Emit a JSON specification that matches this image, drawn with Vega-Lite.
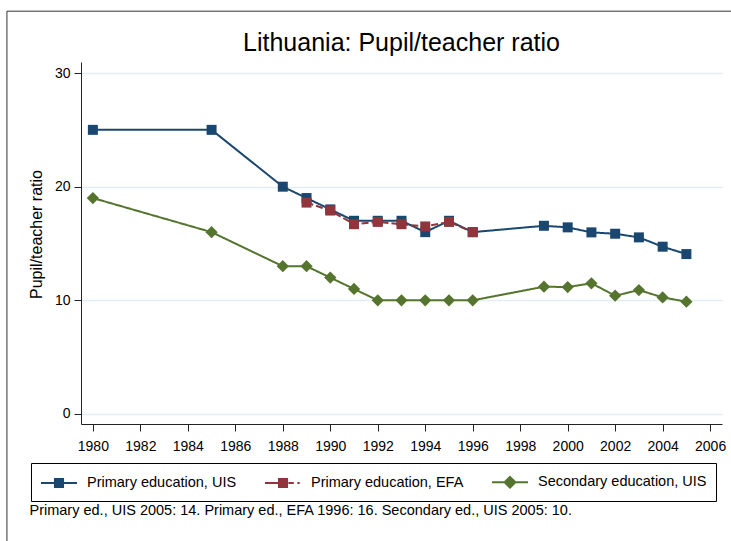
{
  "$schema": "https://vega.github.io/schema/vega-lite/v6.json",
  "autosize": "none",
  "width": 641,
  "height": 362,
  "padding": {"left": 81, "top": 62, "right": 9, "bottom": 117},
  "background": "white",
  "config": {
    "font": "Liberation Sans",
    "view": {"stroke": null},
    "axis": {"labelColor": "#000", "titleColor": "#000", "domainColor": "#222", "tickColor": "#222", "titleFontWeight": "normal"},
    "legend": {"labelLimit": 300}
  },
  "title": {"text": "Lithuania: Pupil/teacher ratio", "fontSize": 25, "fontWeight": "normal", "color": "#000", "anchor": "middle", "offset": 6, "dy": 51},
  "data": {"values": [
    {"year": 1980, "series": "Primary education, UIS", "ratio": 25},
    {"year": 1985, "series": "Primary education, UIS", "ratio": 25},
    {"year": 1988, "series": "Primary education, UIS", "ratio": 20},
    {"year": 1989, "series": "Primary education, UIS", "ratio": 19},
    {"year": 1990, "series": "Primary education, UIS", "ratio": 18},
    {"year": 1991, "series": "Primary education, UIS", "ratio": 17},
    {"year": 1992, "series": "Primary education, UIS", "ratio": 17},
    {"year": 1993, "series": "Primary education, UIS", "ratio": 17},
    {"year": 1994, "series": "Primary education, UIS", "ratio": 16},
    {"year": 1995, "series": "Primary education, UIS", "ratio": 17},
    {"year": 1996, "series": "Primary education, UIS", "ratio": 16},
    {"year": 1999, "series": "Primary education, UIS", "ratio": 16.56},
    {"year": 2000, "series": "Primary education, UIS", "ratio": 16.42},
    {"year": 2001, "series": "Primary education, UIS", "ratio": 15.98},
    {"year": 2002, "series": "Primary education, UIS", "ratio": 15.86},
    {"year": 2003, "series": "Primary education, UIS", "ratio": 15.54},
    {"year": 2004, "series": "Primary education, UIS", "ratio": 14.72},
    {"year": 2005, "series": "Primary education, UIS", "ratio": 14.07},
    {"year": 1989, "series": "Primary education, EFA", "ratio": 18.6},
    {"year": 1990, "series": "Primary education, EFA", "ratio": 17.9},
    {"year": 1991, "series": "Primary education, EFA", "ratio": 16.7},
    {"year": 1992, "series": "Primary education, EFA", "ratio": 16.9},
    {"year": 1993, "series": "Primary education, EFA", "ratio": 16.7},
    {"year": 1994, "series": "Primary education, EFA", "ratio": 16.5},
    {"year": 1995, "series": "Primary education, EFA", "ratio": 16.9},
    {"year": 1996, "series": "Primary education, EFA", "ratio": 16.0},
    {"year": 1980, "series": "Secondary education, UIS", "ratio": 19},
    {"year": 1985, "series": "Secondary education, UIS", "ratio": 16},
    {"year": 1988, "series": "Secondary education, UIS", "ratio": 13},
    {"year": 1989, "series": "Secondary education, UIS", "ratio": 13},
    {"year": 1990, "series": "Secondary education, UIS", "ratio": 12},
    {"year": 1991, "series": "Secondary education, UIS", "ratio": 11},
    {"year": 1992, "series": "Secondary education, UIS", "ratio": 10},
    {"year": 1993, "series": "Secondary education, UIS", "ratio": 10},
    {"year": 1994, "series": "Secondary education, UIS", "ratio": 10},
    {"year": 1995, "series": "Secondary education, UIS", "ratio": 10},
    {"year": 1996, "series": "Secondary education, UIS", "ratio": 10},
    {"year": 1999, "series": "Secondary education, UIS", "ratio": 11.2},
    {"year": 2000, "series": "Secondary education, UIS", "ratio": 11.17},
    {"year": 2001, "series": "Secondary education, UIS", "ratio": 11.5},
    {"year": 2002, "series": "Secondary education, UIS", "ratio": 10.41},
    {"year": 2003, "series": "Secondary education, UIS", "ratio": 10.9},
    {"year": 2004, "series": "Secondary education, UIS", "ratio": 10.26},
    {"year": 2005, "series": "Secondary education, UIS", "ratio": 9.88}
  ]},
  "layer": [
    {
      "data": {"values": [{"k": 1}]},
      "mark": {"type": "rect", "filled": false, "fill": null, "stroke": "#333", "strokeWidth": 1, "clip": false},
      "encoding": {
        "x": {"datum": 1976.38, "type": "quantitative", "title": "Primary ed., UIS 2005: 14. Primary ed., EFA 1996: 16. Secondary ed., UIS 2005: 10."},
        "x2": {"datum": 2007.6},
        "y": {"datum": 35.44, "type": "quantitative", "title": "Pupil/teacher ratio"},
        "y2": {"datum": -13}
      }
    },
    {
      "mark": {"type": "line", "strokeWidth": 2},
      "encoding": {
        "x": {
          "field": "year", "type": "quantitative",
          "scale": {"domain": [1979.5, 2006.5], "nice": false, "zero": false},
          "title": "Primary ed., UIS 2005: 14. Primary ed., EFA 1996: 16. Secondary ed., UIS 2005: 10.",
          "axis": {
            "values": [1980, 1982, 1984, 1986, 1988, 1990, 1992, 1994, 1996, 1998, 2000, 2002, 2004, 2006],
            "format": "d", "grid": false, "labelFontSize": 14, "tickSize": 7, "labelPadding": 8,
            "titleFontSize": 14.5, "titleAnchor": null, "titleAlign": "left", "titleBaseline": "middle",
            "titleX": -52, "titleY": 86
          }
        },
        "y": {
          "field": "ratio", "type": "quantitative",
          "scale": {"domain": [-0.88, 30.97], "nice": false, "zero": false},
          "title": "Pupil/teacher ratio",
          "axis": {
            "values": [0, 10, 20, 30], "grid": true, "gridColor": "#e4edf1", "gridWidth": 1.5,
            "labelFontSize": 14, "tickSize": 7, "labelPadding": 4,
            "titleFontSize": 16, "titlePadding": 10, "titleY": 172
          }
        },
        "color": {"field": "series", "type": "nominal",
          "scale": {"range": ["#90353b", "#1a476f", "#55752f"]},
          "legend": null},
        "strokeDash": {"field": "series", "type": "nominal",
          "scale": {"range": [[7, 3], [1, 0], [1, 0]]},
          "legend": null}
      }
    },
    {
      "transform": [{"filter": "datum.series !== 'Secondary education, UIS'"}],
      "mark": {"type": "point", "shape": "square", "filled": true, "opacity": 1, "size": 100},
      "encoding": {
        "x": {"field": "year", "type": "quantitative", "title": "Primary ed., UIS 2005: 14. Primary ed., EFA 1996: 16. Secondary ed., UIS 2005: 10."},
        "y": {"field": "ratio", "type": "quantitative", "title": "Pupil/teacher ratio"},
        "color": {"field": "series", "type": "nominal", "legend": null}
      }
    },
    {
      "transform": [{"filter": "datum.series === 'Secondary education, UIS'"}],
      "mark": {"type": "point", "shape": "diamond", "filled": true, "opacity": 1, "size": 150},
      "encoding": {
        "x": {"field": "year", "type": "quantitative", "title": "Primary ed., UIS 2005: 14. Primary ed., EFA 1996: 16. Secondary ed., UIS 2005: 10."},
        "y": {"field": "ratio", "type": "quantitative", "title": "Pupil/teacher ratio"},
        "color": {"field": "series", "type": "nominal", "legend": null}
      }
    },
    {
      "mark": {"type": "point", "filled": true, "clip": true, "opacity": 1, "strokeWidth": 2},
      "encoding": {
        "x": {"field": "year", "type": "quantitative", "title": "Primary ed., UIS 2005: 14. Primary ed., EFA 1996: 16. Secondary ed., UIS 2005: 10."},
        "y": {"datum": -100, "type": "quantitative", "title": "Pupil/teacher ratio"},
        "fill": {"field": "series", "type": "nominal",
          "scale": {"domain": ["Primary education, UIS", "Primary education, EFA", "Secondary education, UIS"], "range": ["#1a476f", "#90353b", "#55752f"]},
          "legend": {"title": null, "orient": "none", "legendX": -50, "legendY": 401, "direction": "horizontal", "columns": 3, "columnPadding": 24, "strokeColor": "#000", "padding": 9, "labelFontSize": 14.5, "labelOffset": 27, "labelLimit": 300, "symbolSize": 324, "symbolStrokeWidth": 2}},
        "stroke": {"field": "series", "type": "nominal",
          "scale": {"domain": ["Primary education, UIS", "Primary education, EFA", "Secondary education, UIS"], "range": ["#1a476f", "#90353b", "#55752f"]},
          "legend": {"title": null, "orient": "none", "legendX": -50, "legendY": 401, "direction": "horizontal", "columns": 3, "columnPadding": 24, "strokeColor": "#000", "padding": 9, "labelFontSize": 14.5, "labelOffset": 27, "labelLimit": 300, "symbolSize": 324, "symbolStrokeWidth": 2}},
        "shape": {"field": "series", "type": "nominal",
          "scale": {"domain": ["Primary education, UIS", "Primary education, EFA", "Secondary education, UIS"],
            "range": ["M-1,0H3M0.55,-0.45H1.45V0.45H0.55Z", "M-1,0H1M0.55,-0.45H1.45V0.45H0.55ZM1.6,0H2.2M2.6,0H2.85", "M-1,0H3M1,-0.6L1.6,0L1,0.6L0.4,0Z"]},
          "legend": {"title": null, "orient": "none", "legendX": -50, "legendY": 401, "direction": "horizontal", "columns": 3, "columnPadding": 24, "strokeColor": "#000", "padding": 9, "labelFontSize": 14.5, "labelOffset": 27, "labelLimit": 300, "symbolSize": 324, "symbolStrokeWidth": 2}
        }
      }
    }
  ]
}
